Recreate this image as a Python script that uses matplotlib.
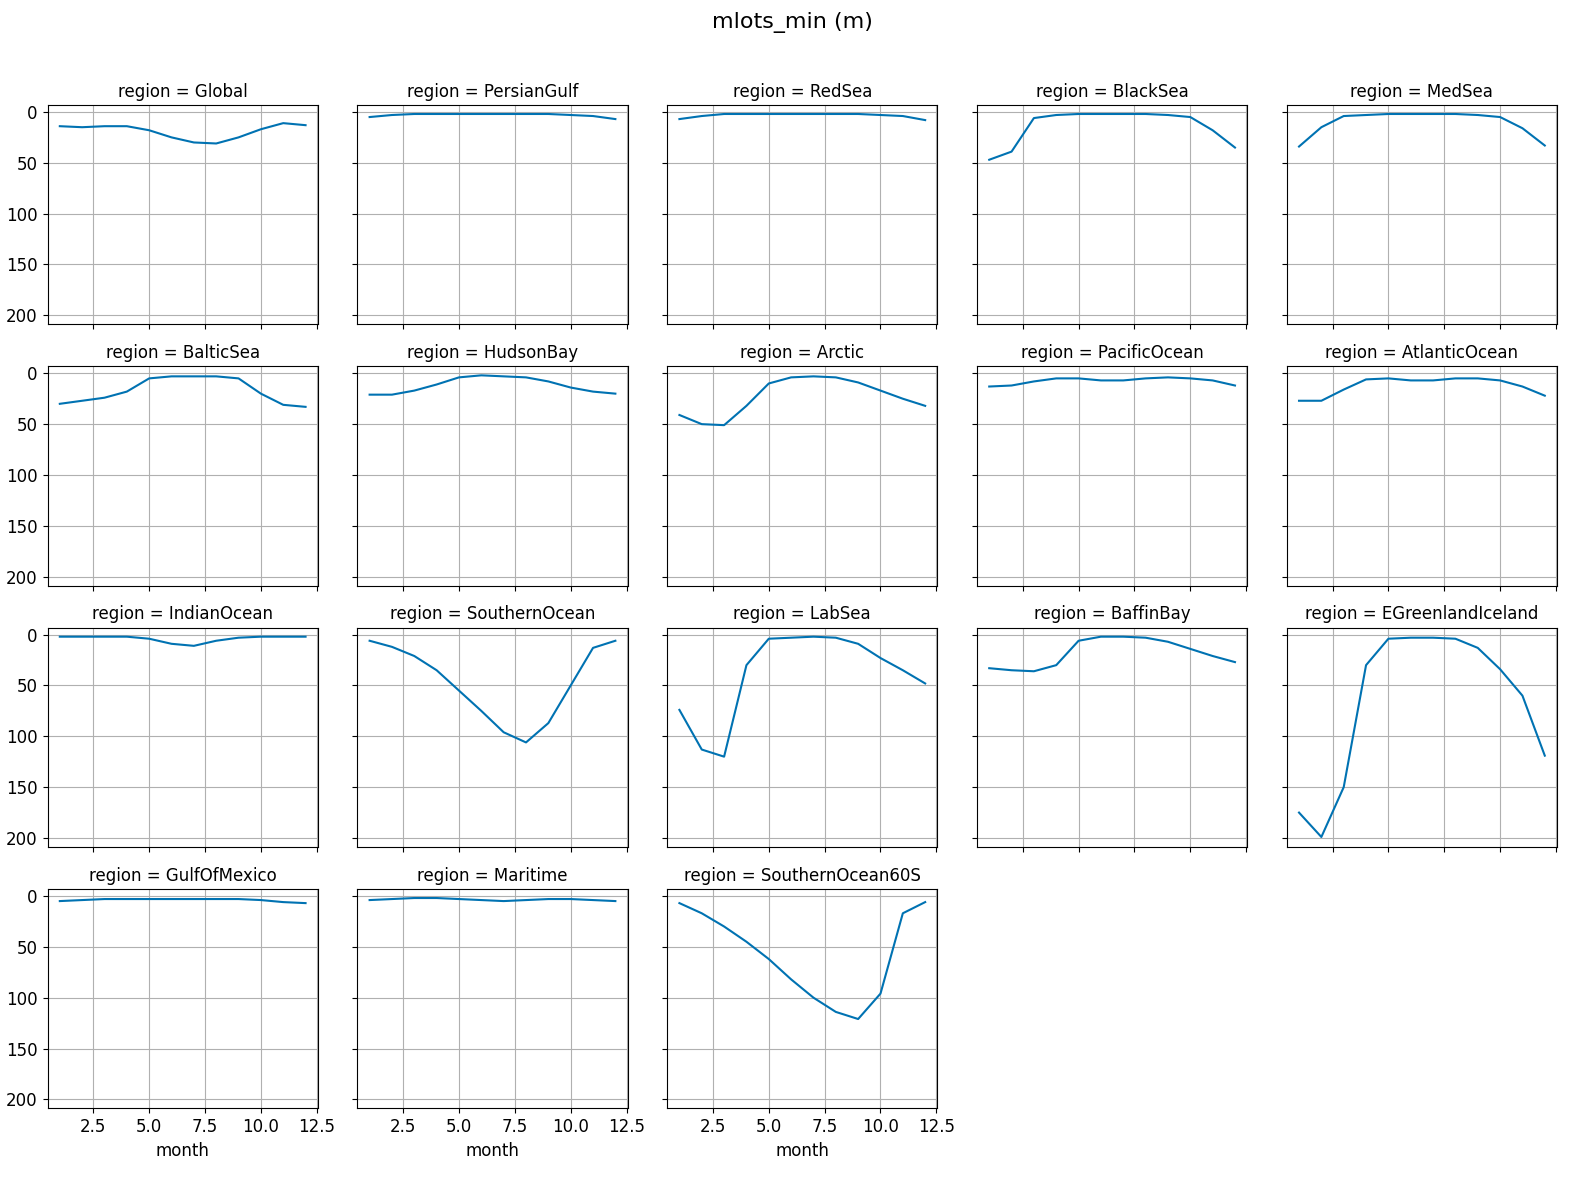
import matplotlib
matplotlib.use("Agg")
import matplotlib.pyplot as plt
import numpy as np

months = list(range(1, 13))
regions = ["Global", "PersianGulf", "RedSea", "BlackSea", "MedSea",
           "BalticSea", "HudsonBay", "Arctic", "PacificOcean", "AtlanticOcean",
           "IndianOcean", "SouthernOcean", "LabSea", "BaffinBay", "EGreenlandIceland",
           "GulfOfMexico", "Maritime", "SouthernOcean60S"]
Global = [14, 15, 14, 14, 18, 25, 30, 31, 25, 17, 11, 13]
PersianGulf = [5, 3, 2, 2, 2, 2, 2, 2, 2, 3, 4, 7]
RedSea = [7, 4, 2, 2, 2, 2, 2, 2, 2, 3, 4, 8]
BlackSea = [47, 39, 6, 3, 2, 2, 2, 2, 3, 5, 18, 35]
MedSea = [34, 15, 4, 3, 2, 2, 2, 2, 3, 5, 16, 33]
BalticSea = [30, 27, 24, 18, 5, 3, 3, 3, 5, 20, 31, 33]
HudsonBay = [21, 21, 17, 11, 4, 2, 3, 4, 8, 14, 18, 20]
Arctic = [41, 50, 51, 32, 10, 4, 3, 4, 9, 17, 25, 32]
PacificOcean = [13, 12, 8, 5, 5, 7, 7, 5, 4, 5, 7, 12]
AtlanticOcean = [27, 27, 16, 6, 5, 7, 7, 5, 5, 7, 13, 22]
IndianOcean = [2, 2, 2, 2, 4, 9, 11, 6, 3, 2, 2, 2]
SouthernOcean = [6, 12, 21, 35, 55, 75, 96, 106, 87, 50, 13, 6]
LabSea = [74, 113, 120, 30, 4, 3, 2, 3, 9, 23, 35, 48]
BaffinBay = [33, 35, 36, 30, 6, 2, 2, 3, 7, 14, 21, 27]
EGreenlandIceland = [175, 199, 150, 30, 4, 3, 3, 4, 13, 34, 60, 119]
GulfOfMexico = [5, 4, 3, 3, 3, 3, 3, 3, 3, 4, 6, 7]
Maritime = [4, 3, 2, 2, 3, 4, 5, 4, 3, 3, 4, 5]
SouthernOcean60S = [7, 17, 30, 45, 62, 82, 100, 114, 121, 96, 17, 6]
values = [Global, PersianGulf, RedSea, BlackSea, MedSea, BalticSea, HudsonBay, Arctic,
          PacificOcean, AtlanticOcean, IndianOcean, SouthernOcean, LabSea, BaffinBay,
          EGreenlandIceland, GulfOfMexico, Maritime, SouthernOcean60S]

plt.rcParams["font.size"] = 12
fig, axes = plt.subplots(4, 5, figsize=(15.84, 11.78), dpi=100, sharex=True, sharey=True)
fig.subplots_adjust(left=0.030, right=0.983, top=0.911, bottom=0.059, hspace=0.19, wspace=0.146)
for i, ax in enumerate(axes.flat):
    if i >= len(regions):
        ax.set_visible(False)
        continue
    ax.plot(months, values[i], color="#0072B2", lw=1.5)
    ax.set_title(f"region = {regions[i]}", fontsize=12)
    ax.grid(True)
axes[0, 0].set_xlim(0.45, 12.55)
axes[0, 0].set_ylim(209, -7)
axes[0, 0].set_yticks([0, 50, 100, 150, 200])
axes[0, 0].set_xticks([2.5, 5.0, 7.5, 10.0, 12.5])
for ax in axes[3, :3]:
    ax.set_xlabel("month")
    ax.xaxis.set_tick_params(labelbottom=True)
fig.suptitle("mlots_min (m)", fontsize=16, y=0.99)
fig.savefig("out.png", dpi=100)
